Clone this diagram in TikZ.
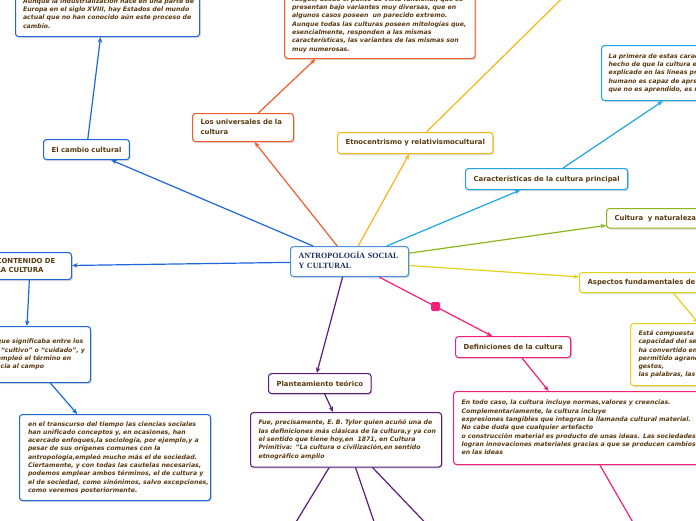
\documentclass[tikz,border=0pt]{standalone}
\usepackage{fontspec}
\setmainfont{DejaVu Sans}
\newfontfamily\serifb{Liberation Serif}
\usetikzlibrary{arrows.meta,shadows}
\definecolor{txt}{HTML}{5A3A10}
\definecolor{navy}{HTML}{1C2B5E}
\definecolor{cblue}{HTML}{4A8FE0}
\definecolor{bl}{HTML}{1F66D8}
\definecolor{cy}{HTML}{1EA5E3}
\definecolor{orr}{HTML}{F25C2B}
\definecolor{gold}{HTML}{F7B719}
\definecolor{grn}{HTML}{8BB51C}
\definecolor{yel}{HTML}{E2D21C}
\definecolor{pnk}{HTML}{F2207A}
\definecolor{pur}{HTML}{5B1C7B}
\newcommand\tx[1]{\noindent\begin{tabular}{@{}l@{}}#1\end{tabular}}
\tikzset{
  bx/.style={draw=#1, rounded corners=3pt, fill=white, line width=1.1pt, text=txt,
    anchor=north west, inner ysep=1pt,
    drop shadow={shadow xshift=1.2pt, shadow yshift=-1.6pt, fill=black!60, opacity=0.22}},
  lbl/.style={bx=#1, font=\fontsize{6.9pt}{9.3pt}\selectfont\bfseries, inner xsep=8pt},
  txtbox/.style={bx=#1, font=\fontsize{6.2pt}{8.3pt}\selectfont\bfseries\itshape, inner xsep=7.5pt},
  con/.style={draw=#1, line width=1.2pt, -{Stealth[length=5.5pt,width=4.5pt]}},
  mk/.style={fill=pnk, draw=none, rounded corners=1.5pt, minimum size=9pt, inner sep=0pt}
}
\begin{document}
\begin{tikzpicture}[x=1pt,y=-1pt]
\useasboundingbox (0,0) rectangle (696,520);
\fill[white] (0,0) rectangle (696,520);
\clip (0,0) rectangle (696,520);

% central node
\node[bx=cblue, text=navy, font=\serifb\fontsize{8pt}{9.4pt}\selectfont\bfseries,
  inner xsep=8pt, text width=102pt, minimum height=30pt] (c) at (290,246)
  {\tx{ANTROPOLOGÍA SOCIAL\\Y CULTURAL}};

% blue branch (upper left)
\node[lbl=bl, minimum height=20pt] (cambio) at (43,139) {El cambio cultural};
\node[txtbox=bl, text width=169pt, minimum height=45pt] (toplt) at (15,-9)
  {\tx{Aunque la industrialización nace en una parte de\\
  Europa en el siglo XVIII, hay Estados del mundo\\
  actual que no han conocido aún este proceso de\\
  cambio.}};

% orange branch
\node[lbl=orr, text width=85pt, minimum height=28pt] (univ) at (192,113)
  {\tx{Los universales de la\\cultura}};
\node[txtbox=orr, text width=175.6pt, minimum height=68pt] (topc) at (284,-10)
  {\tx{rasgos, desde el punto de vista funcional, que se\\
  presentan bajo variantes muy diversas, que en\\
  algunos casos poseen\ \ un parecido extremo.\\
  Aunque todas las culturas poseen mitologías que,\\
  esencialmente, responden a las mismas\\
  características, las variantes de las mismas son\\
  muy numerosas.}};

% gold branch
\node[lbl=gold, minimum height=21pt] (etno) at (337,132) {Etnocentrismo y relativismocultural};
\coordinate (etnochild) at (599,-38);

% cyan branch
\node[lbl=cy, minimum height=21pt] (caract) at (465,168) {Características de la cultura principal};
\node[txtbox=cy, inner xsep=7pt, text width=192pt, minimum height=55pt] (topr) at (601,45)
  {\tx{La primera de estas características es el\\
  hecho de que la cultura es aprendida, como se ha\\
  explicado en las líneas precedentes. El ser\\
  humano es capaz de aprender todo lo\\
  que no es aprendido, es natural.}};

% green branch
\node[lbl=grn, text width=84pt, minimum height=19.5pt] (natur) at (606,208) {\tx{Cultura\ \ y naturaleza}};

% yellow branch
\node[lbl=yel, text width=154pt, minimum height=20pt] (asp) at (579,272) {\tx{Aspectos fundamentales de la cultura}};
\node[txtbox=yel, inner xsep=8pt, text width=172pt, minimum height=62pt] (comp) at (630,323)
  {\tx{Está compuesta por los símbolos. La\\
  capacidad del ser humano para simbolizar\\
  ha convertido en lenguaje lo que le ha\\
  permitido agrandar su mundo:\\
  gestos,\\
  las palabras, las artes}};

% pink branch
\node[lbl=pnk, minimum height=21pt] (defin) at (455,336) {Definiciones de la cultura};
\node[txtbox=pnk, inner xsep=8pt, text width=234pt, minimum height=73pt] (br) at (453,391)
  {\tx{En todo caso, la cultura incluye normas,valores y creencias.\\
  Complementariamente, la cultura incluye\\
  expresiones tangibles que integran la llamanda cultural material.\\
  No cabe duda que cualquier artefacto\\
  o construcción material es producto de unas ideas. Las sociedades\\
  logran innovaciones materiales gracias a que se producen cambios\\
  en las ideas}};
\coordinate (brchild) at (665,578);

% blue branch (left)
\node[lbl=bl, text width=67pt, minimum height=27pt] (cont) at (-12,252) {\tx{CONTENIDO DE\\LA CULTURA}};
\node[txtbox=bl, inner xsep=8pt, text width=114pt, minimum height=56pt] (leftb) at (-40,326)
  {\tx{Aquello que significaba entre los\\
  romanos “cultivo” o “cuidado”, y\\
  Cicerón empleó el término en\\
  a referencia al campo}};
\node[txtbox=bl, inner xsep=8.5pt, text width=174pt, minimum height=86pt] (botl) at (19,414)
  {\tx{en el transcurso del tiempo las ciencias sociales\\
  han unificado conceptos y, en ocasiones, han\\
  acercado enfoques,la sociología, por ejemplo,y a\\
  pesar de sus orígenes comunes con la\\
  antropología,empleó mucho más el de sociedad.\\
  Ciertamente, y con todas las cautelas necesarias,\\
  podemos emplear ambos términos, el de cultura y\\
  el de sociedad, como sinónimos, salvo excepciones,\\
  como veremos posteriormente.}};

% purple branch
\node[lbl=pur, minimum height=20pt] (plant) at (268,373) {Planteamiento teórico};
\node[txtbox=pur, inner xsep=8pt, text width=175pt, minimum height=54.5pt] (plb) at (250,412)
  {\tx{Fue, precisamente, E. B. Tylor quien acuñó una de\\
  las definiciones más clásicas de la cultura,y ya con\\
  el sentido que tiene hoy,en\ \ 1871, en Cultura\\
  Primitiva: "La cultura o civilización,en sentido\\
  etnográfico amplio}};
\coordinate (p1) at (260.7,580);
\coordinate (p2) at (394,580);
\coordinate (p3) at (480,580);

% connectors
\draw[con=bl] (c) -- (cambio);
\draw[con=bl] (cambio) -- ([xshift=-7pt]toplt.south);
\draw[con=orr] (c) -- (univ);
\draw[con=orr] (univ) -- ([xshift=-64.5pt]topc.south);
\draw[con=gold] (c) -- (etno);
\draw[con=gold] (etno) -- (etnochild);
\draw[con=cy] (c) -- (caract);
\draw[con=cy] (caract) -- (topr);
\draw[con=grn] (c) -- (natur);
\draw[con=yel] (c) -- (asp);
\draw[con=yel] (asp) -- (comp);
\draw[con=pnk] (c) -- node[mk]{} (defin);
\draw[con=pnk] (defin) -- (br);
\draw[con=pnk] (br) -- (brchild);
\draw[con=bl] (c) -- (cont);
\draw[con=bl] (cont) -- (leftb);
\draw[con=bl] (leftb) -- (botl);
\draw[con=pur] ([xshift=-7pt]c.south) -- ([xshift=-3pt]plant.north);
\draw[con=pur] (plant) -- (plb);
\draw[con=pur] (plb) -- (p1);
\draw[con=pur] (plb) -- (p2);
\draw[con=pur] (plb) -- (p3);
\end{tikzpicture}
\end{document}
